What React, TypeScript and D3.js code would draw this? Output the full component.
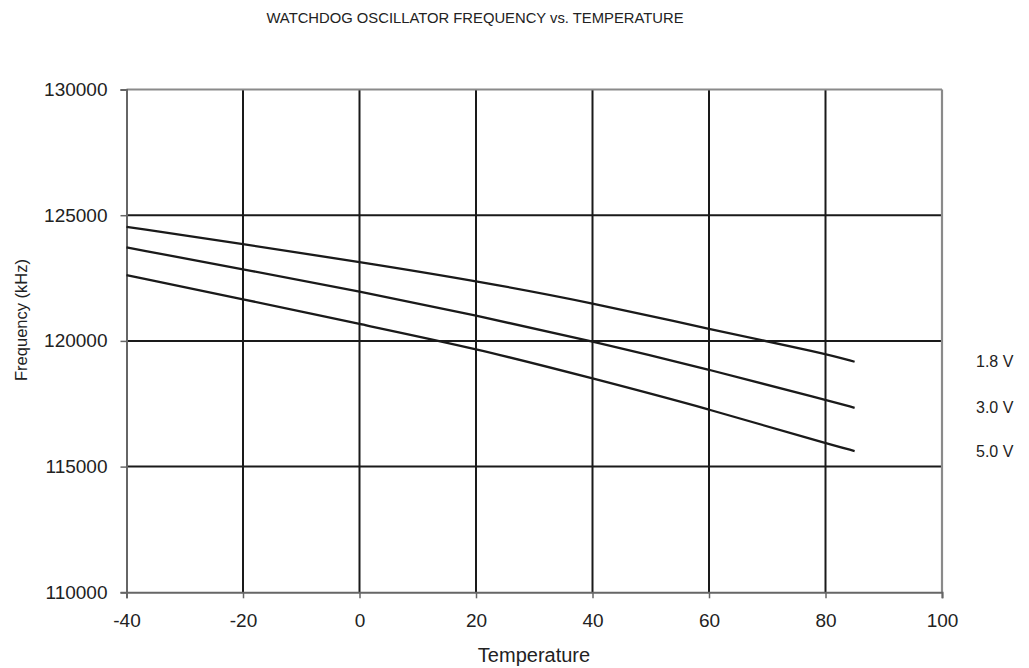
import React, { useEffect, useRef } from "react";
import * as d3 from "d3";

const temps = [-40, -20, 0, 20, 40, 60, 80, 85];
const freq18 = [124540, 123850, 123145, 122390, 121515, 120470, 119500, 119170];
const freq30 = [123720, 122845, 121980, 121015, 119990, 118865, 117650, 117340];
const freq50 = [122620, 121660, 120670, 119700, 118510, 117290, 115925, 115620];
const seriesNames = ["1.8 V", "3.0 V", "5.0 V"];
const xTicks = [-40, -20, 0, 20, 40, 60, 80, 100];
const yTicks = [110000, 115000, 120000, 125000, 130000];

const W = 1029;
const H = 668;

const App: React.FC = () => {
  const svgRef = useRef<SVGSVGElement | null>(null);

  useEffect(() => {
    const svg = d3.select(svgRef.current);
    svg.selectAll("*").remove();

    const left = 126.5;
    const right = 942;
    const top = 89.5;
    const bottom = 592.3;

    const x = d3.scaleLinear().domain([-40, 100]).range([left, right]);
    const y = d3.scaleLinear().domain([110000, 130000]).range([bottom, top]);

    const font = "Arial, 'Liberation Sans', sans-serif";

    // title
    svg
      .append("text")
      .attr("x", 475)
      .attr("y", 22.5)
      .attr("text-anchor", "middle")
      .attr("font-family", font)
      .attr("font-size", 14.8)
      .attr("fill", "#222")
      .text("WATCHDOG OSCILLATOR FREQUENCY vs. TEMPERATURE");

    // grid
    const g = svg.append("g");
    g.selectAll(".vg")
      .data(xTicks.filter((t) => t > -40 && t < 100))
      .enter()
      .append("line")
      .attr("x1", (d) => x(d))
      .attr("x2", (d) => x(d))
      .attr("y1", top)
      .attr("y2", bottom)
      .attr("stroke", "#1a1a1a")
      .attr("stroke-width", 2);
    g.selectAll(".hg")
      .data(yTicks.filter((t) => t > 110000 && t < 130000))
      .enter()
      .append("line")
      .attr("x1", left)
      .attr("x2", right)
      .attr("y1", (d) => y(d))
      .attr("y2", (d) => y(d))
      .attr("stroke", "#1a1a1a")
      .attr("stroke-width", 2);

    // top & right border
    g.append("line")
      .attr("x1", left)
      .attr("x2", right)
      .attr("y1", top)
      .attr("y2", top)
      .attr("stroke", "#8a8a8a")
      .attr("stroke-width", 2.2);
    g.append("line")
      .attr("x1", right)
      .attr("x2", right)
      .attr("y1", top)
      .attr("y2", bottom)
      .attr("stroke", "#8a8a8a")
      .attr("stroke-width", 2.2);

    // axes
    const yAxis = d3
      .axisLeft(y)
      .tickValues(yTicks)
      .tickSize(6)
      .tickPadding(13)
      .tickFormat((d) => String(d));
    const ya = svg.append("g").attr("transform", `translate(${left},0)`).call(yAxis);
    const xAxis = d3
      .axisBottom(x)
      .tickValues(xTicks)
      .tickSize(6)
      .tickPadding(15)
      .tickFormat((d) => String(d));
    const xa = svg.append("g").attr("transform", `translate(0,${bottom})`).call(xAxis);
    [ya, xa].forEach((a) => {
      a.select(".domain").attr("stroke", "#666").attr("stroke-width", 2);
      a.selectAll(".tick line").attr("stroke", "#666").attr("stroke-width", 1.5);
      a.selectAll(".tick text")
        .attr("font-family", font)
        .attr("font-size", 19)
        .attr("fill", "#222");
    });

    // curves
    const series = [freq18, freq30, freq50];
    const line = d3
      .line<number>()
      .x((_, i) => x(temps[i]))
      .y((d) => y(d))
      .curve(d3.curveBasis);
    svg
      .append("g")
      .selectAll("path")
      .data(series)
      .enter()
      .append("path")
      .attr("d", (d) => line(d))
      .attr("fill", "none")
      .attr("stroke", "#1a1a1a")
      .attr("stroke-width", 2.3);

    // series labels
    svg
      .append("g")
      .selectAll("text")
      .data(series)
      .enter()
      .append("text")
      .attr("x", 976)
      .attr("y", (d) => y(d[d.length - 1]))
      .attr("dy", "0.35em")
      .attr("font-family", font)
      .attr("font-size", 16)
      .attr("fill", "#222")
      .text((_, i) => seriesNames[i]);

    // axis titles
    svg
      .append("text")
      .attr("x", 534)
      .attr("y", 661.5)
      .attr("text-anchor", "middle")
      .attr("font-family", font)
      .attr("font-size", 20)
      .attr("fill", "#222")
      .text("Temperature");
    svg
      .append("text")
      .attr("transform", "translate(26.5,320) rotate(-90)")
      .attr("text-anchor", "middle")
      .attr("font-family", font)
      .attr("font-size", 16.5)
      .attr("fill", "#222")
      .text("Frequency (kHz)");
  }, []);

  return (
    <svg
      ref={svgRef}
      width={W}
      height={H}
      style={{ position: "absolute", left: 0, top: 0, background: "#fff" }}
    />
  );
};

export default App;
